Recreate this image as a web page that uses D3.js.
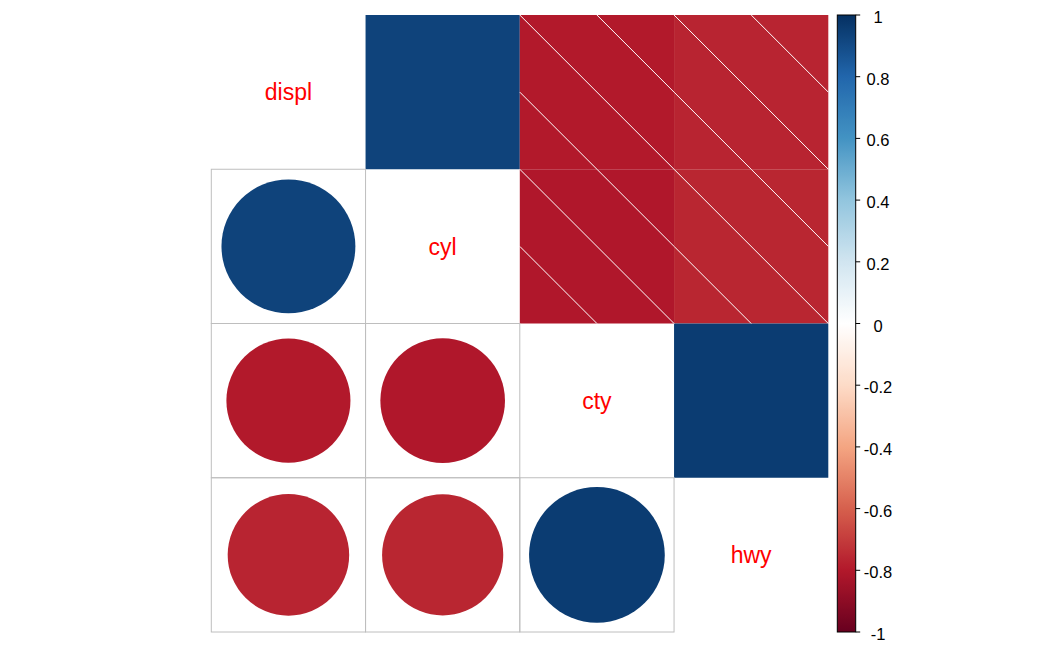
<!DOCTYPE html>
<html>
<head>
<meta charset="utf-8">
<script src="https://cdn.jsdelivr.net/npm/d3@7"></script>
<style>
  html, body { margin: 0; padding: 0; background: #fff; }
  svg { display: block; }
</style>
</head>
<body>
<svg id="chart" width="1050" height="648"></svg>
<script>
// ---- data ----
const variables = ["displ", "cyl", "cty", "hwy"];
const corrDispl = [1, 0.9302, -0.7985, -0.7660];
const corrCyl   = [0.9302, 1, -0.8058, -0.7619];
const corrCty   = [-0.7985, -0.8058, 1, 0.9559];
const corrHwy   = [-0.7660, -0.7619, 0.9559, 1];
const corrMatrix = [corrDispl, corrCyl, corrCty, corrHwy];
const paletteStops = [-1, -0.8, -0.6, -0.4, -0.2, 0, 0.2, 0.4, 0.6, 0.8, 1];
const paletteColors = ["#67001F", "#B2182B", "#D6604D", "#F4A582", "#FDDBC7", "#FFFFFF",
                       "#D1E5F0", "#92C5DE", "#4393C3", "#2166AC", "#053061"];
const legendTicks = [1, 0.8, 0.6, 0.4, 0.2, 0, -0.2, -0.4, -0.6, -0.8, -1];

// ---- layout ----
const svg = d3.select("#chart");
const gridLeft = 211.3, gridTop = 15, gridRight = 828.3, gridBottom = 632;

const x = d3.scaleBand().domain(variables).range([gridLeft, gridRight]).padding(0);
const y = d3.scaleBand().domain(variables).range([gridTop, gridBottom]).padding(0);
const color = d3.scaleLinear().domain(paletteStops).range(paletteColors)
  .interpolate(d3.interpolateRgb).clamp(true);

const cells = [];
variables.forEach((rv, i) => {
  variables.forEach((cv, j) => {
    cells.push({ row: rv, col: cv, i, j, r: corrMatrix[i][j] });
  });
});

const bw = x.bandwidth(), bh = y.bandwidth();

// upper triangle: shaded squares
const upper = cells.filter(d => d.j > d.i);
svg.append("g").selectAll("rect").data(upper).join("rect")
  .attr("x", d => x(d.col)).attr("y", d => y(d.row))
  .attr("width", bw).attr("height", bh)
  .attr("fill", d => color(d.r));

// shading lines for negative cells
const shadeG = svg.append("g");
upper.filter(d => d.r < 0).forEach(d => {
  const x0 = x(d.col), y0 = y(d.row);
  const segs = [
    [x0, y0, x0 + bw, y0 + bh],
    [x0 + bw / 2, y0, x0 + bw, y0 + bh / 2],
    [x0, y0 + bh / 2, x0 + bw / 2, y0 + bh]
  ];
  segs.forEach(s => {
    shadeG.append("line")
      .attr("x1", s[0]).attr("y1", s[1]).attr("x2", s[2]).attr("y2", s[3])
      .attr("stroke", "#FFFFFF").attr("stroke-width", 1);
  });
});

// lower triangle: grid + circles
const lower = cells.filter(d => d.j < d.i);
svg.append("g").selectAll("rect").data(lower).join("rect")
  .attr("x", d => x(d.col)).attr("y", d => y(d.row))
  .attr("width", bw).attr("height", bh)
  .attr("fill", "none").attr("stroke", "#BEBEBE").attr("stroke-width", 1);

svg.append("g").selectAll("circle").data(lower).join("circle")
  .attr("cx", d => x(d.col) + bw / 2)
  .attr("cy", d => y(d.row) + bh / 2)
  .attr("r", d => 0.45 * Math.sqrt(Math.abs(d.r)) * bw)
  .attr("fill", d => color(d.r));

// diagonal labels
const diagFont = 23;
svg.append("g").selectAll("text").data(cells.filter(d => d.i === d.j)).join("text")
  .attr("x", d => x(d.col) + bw / 2)
  .attr("y", d => y(d.row) + bh / 2 + diagFont * 0.36)
  .attr("text-anchor", "middle")
  .attr("font-family", "Liberation Sans, Arial, sans-serif")
  .attr("font-size", diagFont)
  .attr("fill", "#FF0000")
  .text(d => d.row);

// ---- colour legend ----
const legLeft = 837.3, legRight = 855.7;
const ly = d3.scaleLinear().domain([-1, 1]).range([gridBottom, gridTop]);
const defs = svg.append("defs");
const grad = defs.append("linearGradient").attr("id", "legGrad")
  .attr("x1", 0).attr("y1", 1).attr("x2", 0).attr("y2", 0);
d3.range(0, 201).forEach(k => {
  const v = -1 + k / 100;
  grad.append("stop").attr("offset", (k / 200)).attr("stop-color", color(v));
});
svg.append("rect")
  .attr("x", legLeft).attr("y", ly(1))
  .attr("width", legRight - legLeft).attr("height", ly(-1) - ly(1))
  .attr("fill", "url(#legGrad)")
  .attr("stroke", "#000").attr("stroke-width", 1);

const legAxis = svg.append("g");
legAxis.selectAll("line").data(legendTicks).join("line")
  .attr("x1", legRight).attr("x2", legRight + 4.5)
  .attr("y1", d => ly(d)).attr("y2", d => ly(d))
  .attr("stroke", "#000").attr("stroke-width", 1);
legAxis.selectAll("text").data(legendTicks).join("text")
  .attr("x", 878)
  .attr("y", d => ly(d) + 8)
  .attr("text-anchor", "middle")
  .attr("font-family", "Liberation Sans, Arial, sans-serif")
  .attr("font-size", 16.5)
  .attr("fill", "#000")
  .text(d => String(d));
</script>
</body>
</html>
